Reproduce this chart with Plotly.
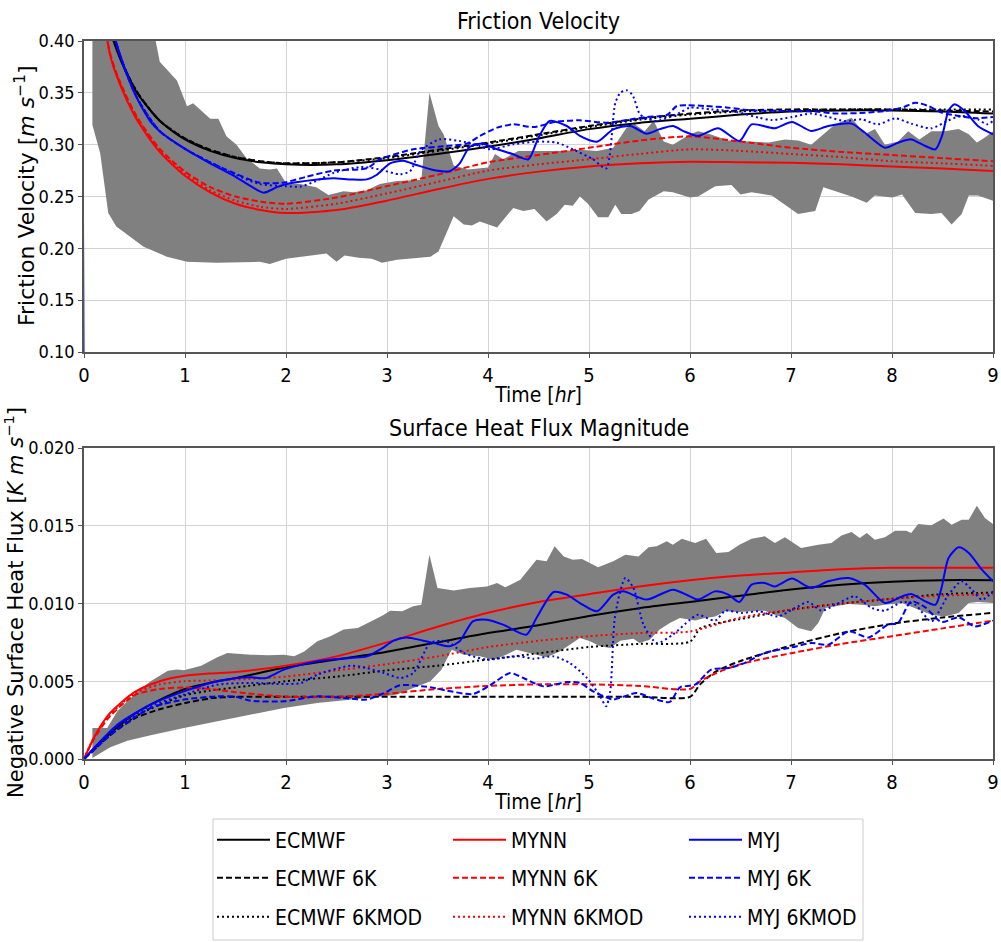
import plotly.graph_objects as go

# ---------------- DATA ----------------
# Friction velocity spread band (upper / lower envelope)
fv_band_up_t = [0.083, 0.3, 0.5, 0.7, 0.75, 0.92, 1.02, 1.08, 1.25, 1.33, 1.41, 1.51, 1.61, 1.74, 1.84, 1.91, 2.0, 2.14, 2.30, 2.42, 2.57, 2.67, 2.80, 2.93, 3.1, 3.34, 3.42, 3.51, 3.56, 3.66, 3.8, 4.0, 4.07, 4.15, 4.3, 4.5, 4.75, 4.91, 5.08, 5.24, 5.37, 5.45, 5.55, 5.64, 5.74, 5.83, 6.0, 6.08, 6.2, 6.38, 6.6, 6.78, 6.94, 7.07, 7.2, 7.32, 7.44, 7.6, 7.73, 7.83, 7.93, 8.06, 8.16, 8.27, 8.39, 8.52, 8.66, 8.76, 8.84, 8.92, 9.0]
fv_band_up_v = [0.60, 0.56, 0.48, 0.405, 0.38, 0.362, 0.337, 0.340, 0.325, 0.325, 0.308, 0.300, 0.287, 0.277, 0.276, 0.277, 0.263, 0.262, 0.259, 0.2515, 0.255, 0.254, 0.256, 0.262, 0.265, 0.266, 0.350, 0.318, 0.310, 0.280, 0.276, 0.278, 0.291, 0.286, 0.294, 0.294, 0.294, 0.295, 0.294, 0.297, 0.316, 0.320, 0.313, 0.323, 0.303, 0.300, 0.310, 0.313, 0.310, 0.304, 0.303, 0.302, 0.305, 0.304, 0.300, 0.310, 0.320, 0.326, 0.310, 0.315, 0.300, 0.303, 0.313, 0.305, 0.313, 0.313, 0.315, 0.310, 0.302, 0.307, 0.313]
fv_band_lo_t = [0.083, 0.16, 0.24, 0.32, 0.42, 0.59, 0.82, 1.02, 1.31, 1.74, 1.84, 2.0, 2.4, 2.5, 2.58, 2.72, 2.85, 2.95, 3.1, 3.3, 3.43, 3.51, 3.66, 3.76, 3.84, 3.92, 4.09, 4.25, 4.35, 4.46, 4.58, 4.68, 4.76, 4.84, 4.91, 4.99, 5.09, 5.19, 5.26, 5.32, 5.42, 5.5, 5.59, 5.74, 5.83, 6.0, 6.08, 6.25, 6.41, 6.5, 6.61, 6.81, 6.94, 7.07, 7.24, 7.32, 7.47, 7.6, 7.75, 7.83, 8.0, 8.1, 8.23, 8.39, 8.49, 8.59, 8.69, 8.76, 8.85, 9.0]
fv_band_lo_v = [0.319, 0.292, 0.234, 0.221, 0.214, 0.2016, 0.192, 0.187, 0.186, 0.187, 0.185, 0.190, 0.195, 0.187, 0.193, 0.191, 0.190, 0.186, 0.189, 0.191, 0.192, 0.197, 0.231, 0.223, 0.222, 0.226, 0.220, 0.239, 0.236, 0.238, 0.226, 0.233, 0.242, 0.241, 0.250, 0.243, 0.230, 0.230, 0.242, 0.233, 0.233, 0.236, 0.247, 0.255, 0.254, 0.249, 0.250, 0.260, 0.261, 0.252, 0.254, 0.251, 0.242, 0.233, 0.236, 0.259, 0.254, 0.250, 0.244, 0.251, 0.249, 0.252, 0.234, 0.233, 0.234, 0.223, 0.233, 0.251, 0.251, 0.246]

# Friction velocity, smooth schemes
fv_t = [0.005, 0.25, 0.5, 0.75, 1.0, 1.25, 1.5, 1.75, 2.0, 2.5, 3.0, 3.5, 4.0, 4.5, 5.0, 5.5, 6.0, 6.5, 7.0, 7.5, 8.0, 8.5, 9.0]
fv_ecmwf = [0.9, 0.415, 0.354, 0.323, 0.305, 0.294, 0.287, 0.283, 0.281, 0.281, 0.285, 0.291, 0.298, 0.306, 0.315, 0.321, 0.325, 0.329, 0.332, 0.333, 0.333, 0.332, 0.330]
fv_ecmwf_6k = [0.9, 0.416, 0.355, 0.323, 0.306, 0.295, 0.288, 0.284, 0.282, 0.283, 0.288, 0.295, 0.302, 0.310, 0.318, 0.325, 0.330, 0.333, 0.334, 0.334, 0.334, 0.333, 0.332]
fv_ecmwf_6kmod = [0.9, 0.416, 0.355, 0.323, 0.306, 0.295, 0.288, 0.284, 0.282, 0.283, 0.287, 0.294, 0.301, 0.309, 0.317, 0.324, 0.329, 0.332, 0.333, 0.334, 0.334, 0.334, 0.334]
fv_mynn = [0.9, 0.390, 0.328, 0.293, 0.270, 0.254, 0.243, 0.237, 0.234, 0.237, 0.246, 0.257, 0.267, 0.274, 0.279, 0.282, 0.2835, 0.283, 0.2825, 0.281, 0.279, 0.277, 0.2745]
fv_mynn_6k = [0.9, 0.392, 0.331, 0.296, 0.274, 0.259, 0.250, 0.245, 0.243, 0.249, 0.260, 0.271, 0.283, 0.290, 0.297, 0.304, 0.308, 0.303, 0.297, 0.293, 0.290, 0.287, 0.284]
fv_mynn_6kmod = [0.9, 0.391, 0.330, 0.294, 0.272, 0.256, 0.246, 0.240, 0.238, 0.243, 0.253, 0.264, 0.275, 0.281, 0.286, 0.291, 0.2955, 0.294, 0.291, 0.288, 0.284, 0.282, 0.2795]

fv_myj_t = [0, 0.005, 0.25, 0.5, 0.66, 0.75, 1.0, 1.25, 1.5, 1.65, 1.78, 1.91, 2.04, 2.27, 2.47, 2.64, 2.8, 2.9, 3.03, 3.16, 3.29, 3.46, 3.62, 3.72, 3.82, 3.95, 4.05, 4.25, 4.4, 4.5, 4.61, 4.78, 4.91, 5.08, 5.24, 5.41, 5.57, 5.70, 5.83, 5.95, 6.08, 6.28, 6.49, 6.61, 6.84, 7.01, 7.2, 7.37, 7.6, 7.73, 7.93, 8.06, 8.19, 8.33, 8.43, 8.5, 8.56, 8.62, 8.72, 8.85, 9.0]
fv_myj = [0, 0.9, 0.425, 0.35, 0.322, 0.313, 0.296, 0.282, 0.269, 0.260, 0.2537, 0.259, 0.2627, 0.266, 0.2675, 0.2665, 0.2665, 0.271, 0.282, 0.2845, 0.2804, 0.2756, 0.2745, 0.282, 0.298, 0.301, 0.297, 0.2907, 0.2859, 0.3068, 0.3228, 0.318, 0.3084, 0.3029, 0.3148, 0.318, 0.3106, 0.315, 0.318, 0.3125, 0.3084, 0.3158, 0.3035, 0.3196, 0.3158, 0.3219, 0.3132, 0.318, 0.3203, 0.3116, 0.2971, 0.3019, 0.3051, 0.2987, 0.2955, 0.310, 0.333, 0.339, 0.3325, 0.318, 0.310]

fv_myj6k_t = [0.005, 0.25, 0.5, 0.75, 1.0, 1.25, 1.5, 1.74, 1.97, 2.2, 2.47, 2.8, 2.93, 3.0, 3.26, 3.59, 3.79, 3.92, 4.09, 4.25, 4.45, 4.68, 4.91, 5.17, 5.41, 5.57, 5.77, 5.87, 5.97, 6.15, 6.38, 6.61, 6.94, 7.27, 7.44, 7.77, 7.93, 8.1, 8.23, 8.36, 8.49, 8.66, 8.82, 9.0]
fv_myj_6k = [0.9, 0.425, 0.35, 0.313, 0.296, 0.283, 0.272, 0.2633, 0.2633, 0.269, 0.275, 0.2772, 0.2859, 0.2884, 0.2955, 0.2987, 0.301, 0.3084, 0.3164, 0.3196, 0.317, 0.3222, 0.3235, 0.3212, 0.3244, 0.3267, 0.3286, 0.3373, 0.338, 0.3373, 0.3357, 0.3331, 0.3325, 0.3318, 0.330, 0.331, 0.3325, 0.3357, 0.3405, 0.3373, 0.331, 0.3277, 0.3254, 0.3267]

fv_myj6kmod_t = [0.005, 0.25, 0.5, 0.75, 1.0, 1.25, 1.5, 1.74, 2.0, 2.14, 2.3, 2.47, 2.74, 2.93, 3.13, 3.23, 3.33, 3.52, 3.72, 3.92, 4.02, 4.25, 4.48, 4.68, 4.84, 5.04, 5.17, 5.26, 5.31, 5.37, 5.43, 5.5, 5.55, 5.67, 5.8, 5.9, 6.0, 6.21, 6.45, 6.68, 6.81, 7.01, 7.2, 7.37, 7.53, 7.7, 7.86, 8.03, 8.19, 8.39, 8.56, 8.69, 8.85, 8.94, 9.0]
fv_myj_6kmod = [0.9, 0.425, 0.35, 0.313, 0.296, 0.283, 0.271, 0.262, 0.260, 0.2595, 0.265, 0.2727, 0.2785, 0.276, 0.2714, 0.2746, 0.2939, 0.3051, 0.3035, 0.2987, 0.2955, 0.3003, 0.3029, 0.302, 0.2955, 0.2859, 0.277, 0.34, 0.35, 0.3525, 0.348, 0.33, 0.326, 0.3228, 0.3267, 0.3309, 0.3357, 0.334, 0.3318, 0.326, 0.3238, 0.3267, 0.330, 0.3267, 0.3228, 0.3244, 0.3196, 0.3254, 0.3203, 0.3158, 0.3235, 0.3277, 0.3244, 0.3196, 0.3228]

# Heat flux spread band
hf_band_up_t = [0.083, 0.23, 0.33, 0.43, 0.53, 0.66, 0.83, 0.92, 0.99, 1.16, 1.32, 1.42, 1.52, 1.65, 1.82, 1.98, 2.08, 2.18, 2.31, 2.44, 2.57, 2.71, 2.84, 2.97, 3.03, 3.15, 3.26, 3.34, 3.42, 3.50, 3.66, 3.82, 3.99, 4.09, 4.17, 4.32, 4.48, 4.58, 4.66, 4.75, 4.84, 4.93, 5.09, 5.24, 5.36, 5.49, 5.59, 5.67, 5.77, 5.83, 5.92, 6.0, 6.05, 6.16, 6.26, 6.38, 6.49, 6.61, 6.74, 6.84, 6.94, 7.1, 7.27, 7.4, 7.5, 7.6, 7.68, 7.75, 7.83, 7.93, 8.03, 8.14, 8.19, 8.26, 8.39, 8.51, 8.59, 8.69, 8.76, 8.84, 8.92, 9.0]
hf_band_up_v = [0.0020, 0.0020, 0.00307, 0.0037, 0.00435, 0.0050, 0.00568, 0.00575, 0.0057, 0.0060, 0.00654, 0.00682, 0.00676, 0.00671, 0.00668, 0.00671, 0.0066, 0.00692, 0.00757, 0.00789, 0.00832, 0.00842, 0.00885, 0.00928, 0.00954, 0.00950, 0.00982, 0.00992, 0.01314, 0.0110, 0.01083, 0.0110, 0.0111, 0.01132, 0.01104, 0.01153, 0.01282, 0.01271, 0.01368, 0.01303, 0.01282, 0.01286, 0.01233, 0.01271, 0.01314, 0.01303, 0.01361, 0.01368, 0.0140, 0.01378, 0.01417, 0.0140, 0.01389, 0.01417, 0.01325, 0.01331, 0.01378, 0.01417, 0.01432, 0.01389, 0.01426, 0.01357, 0.01378, 0.01389, 0.01438, 0.0146, 0.01421, 0.01453, 0.0141, 0.01426, 0.01468, 0.01468, 0.01453, 0.01511, 0.01503, 0.01546, 0.01507, 0.01539, 0.01539, 0.01629, 0.0155, 0.01511]
hf_band_lo_t = [0.083, 0.165, 0.26, 0.43, 0.66, 0.99, 1.32, 1.65, 1.98, 2.31, 2.64, 2.97, 3.1, 3.26, 3.43, 3.54, 3.64, 3.76, 3.92, 4.05, 4.18, 4.28, 4.42, 4.58, 4.71, 4.81, 4.91, 5.01, 5.11, 5.21, 5.31, 5.44, 5.5, 5.6, 5.7, 5.8, 5.9, 6.05, 6.15, 6.25, 6.35, 6.48, 6.61, 6.74, 6.84, 6.94, 7.07, 7.2, 7.27, 7.34, 7.44, 7.57, 7.7, 7.83, 7.93, 8.1, 8.26, 8.39, 8.52, 8.66, 8.76, 8.85, 9.0]
hf_band_lo_v = [0.00006, 0.0004, 0.00075, 0.00118, 0.00152, 0.0020, 0.00242, 0.00285, 0.00328, 0.0036, 0.00382, 0.00403, 0.00414, 0.00457, 0.0050, 0.00575, 0.00703, 0.00671, 0.0066, 0.00639, 0.00671, 0.00703, 0.00682, 0.00654, 0.00692, 0.00735, 0.00778, 0.00757, 0.00725, 0.00714, 0.00761, 0.00774, 0.00746, 0.00767, 0.00832, 0.00875, 0.00907, 0.0089, 0.00907, 0.00917, 0.0095, 0.00945, 0.0095, 0.00954, 0.00928, 0.00907, 0.00842, 0.00821, 0.00875, 0.00971, 0.00982, 0.00997, 0.00992, 0.00982, 0.00992, 0.01003, 0.0096, 0.00928, 0.00917, 0.00939, 0.01003, 0.0101, 0.01003]

# Heat flux, smooth schemes
hf_t = [0, 0.1, 0.25, 0.5, 0.75, 1.0, 1.25, 1.5, 2.0, 2.5, 3.0, 3.5, 4.0, 4.5, 5.0, 5.5, 6.0, 6.5, 7.0, 7.5, 8.0, 8.5, 9.0]
hf_ecmwf = [0, 0.0007, 0.0016, 0.0029, 0.0038, 0.0045, 0.0049, 0.0052, 0.0059, 0.0064, 0.0069, 0.0075, 0.0081, 0.0086, 0.0092, 0.0097, 0.0101, 0.0105, 0.0109, 0.0112, 0.0114, 0.0115, 0.0115]
hf_mynn = [0, 0.0014, 0.0029, 0.0043, 0.0050, 0.00535, 0.0055, 0.0056, 0.0060, 0.0066, 0.0075, 0.0085, 0.0094, 0.0101, 0.0106, 0.0111, 0.0115, 0.0118, 0.0120, 0.0122, 0.0123, 0.0123, 0.0123]
hf_mynn_6kmod = [0, 0.0014, 0.0028, 0.0042, 0.0048, 0.0050, 0.00505, 0.0051, 0.0053, 0.0057, 0.0061, 0.0066, 0.0072, 0.0076, 0.0079, 0.0081, 0.0082, 0.0091, 0.0096, 0.0100, 0.0103, 0.0105, 0.0106]

hf6_t = [0, 0.1, 0.25, 0.5, 0.75, 1.0, 1.25, 1.5, 2.0, 2.5, 3.0, 3.5, 4.0, 4.5, 5.0, 5.5, 6.0, 6.1, 6.25, 6.5, 7.0, 7.5, 8.0, 8.5, 9.0]
hf_ecmwf_6k = [0, 0.0006, 0.0015, 0.0026, 0.0032, 0.0036, 0.0039, 0.0040, 0.0040, 0.0040, 0.0040, 0.0040, 0.0040, 0.0040, 0.0040, 0.0040, 0.0040, 0.0048, 0.0056, 0.0063, 0.0073, 0.0081, 0.0087, 0.0091, 0.0094]
hf_ecmwf_6kmod = [0, 0.0006, 0.0015, 0.0027, 0.0035, 0.0041, 0.0044, 0.0046, 0.0050, 0.0053, 0.0057, 0.0060, 0.0064, 0.0068, 0.0072, 0.0074, 0.00755, 0.0084, 0.0087, 0.0090, 0.0096, 0.0100, 0.0103, 0.0106, 0.0107]
hf_mynn_6k = [0, 0.0013, 0.0027, 0.0041, 0.0045, 0.0046, 0.0045, 0.0043, 0.0040, 0.0040, 0.0042, 0.0045, 0.0047, 0.0048, 0.0048, 0.0047, 0.0045, 0.0050, 0.0055, 0.0061, 0.0068, 0.0074, 0.0079, 0.0084, 0.0089]

hf_myj_t = [0, 0.33, 0.66, 0.99, 1.32, 1.5, 1.65, 1.8, 1.98, 2.31, 2.64, 2.8, 2.97, 3.06, 3.19, 3.36, 3.5, 3.62, 3.72, 3.85, 3.99, 4.15, 4.38, 4.48, 4.65, 4.78, 4.91, 5.08, 5.24, 5.34, 5.57, 5.83, 6.0, 6.08, 6.25, 6.38, 6.49, 6.61, 6.74, 6.84, 7.01, 7.2, 7.37, 7.57, 7.73, 7.93, 8.1, 8.19, 8.33, 8.43, 8.49, 8.56, 8.66, 8.76, 8.89, 9.0]
hf_myj = [0, 0.0022, 0.0035, 0.00435, 0.0050, 0.0052, 0.00525, 0.0052, 0.00575, 0.00628, 0.0065, 0.0066, 0.0072, 0.0076, 0.00782, 0.00761, 0.0074, 0.00725, 0.00757, 0.00885, 0.00896, 0.00864, 0.0080, 0.00907, 0.01074, 0.01057, 0.01003, 0.0095, 0.01057, 0.01078, 0.01025, 0.01089, 0.01046, 0.01025, 0.01078, 0.01057, 0.0101, 0.01121, 0.01132, 0.0111, 0.0116, 0.0110, 0.01143, 0.01164, 0.01121, 0.01003, 0.01046, 0.01061, 0.01014, 0.00992, 0.0110, 0.01293, 0.01361, 0.01325, 0.01218, 0.01143]

hf_myj6k_t = [0, 0.33, 0.66, 0.99, 1.32, 1.5, 1.65, 1.98, 2.31, 2.64, 2.8, 2.97, 3.13, 3.43, 3.59, 3.85, 4.02, 4.22, 4.35, 4.55, 4.78, 4.91, 5.04, 5.17, 5.24, 5.47, 5.64, 5.8, 5.9, 6.05, 6.21, 6.38, 6.54, 6.74, 7.01, 7.2, 7.37, 7.57, 7.77, 7.96, 8.06, 8.19, 8.33, 8.49, 8.66, 8.82, 9.0]
hf_myj_6k = [0, 0.0019, 0.00328, 0.00382, 0.00403, 0.0040, 0.00375, 0.00371, 0.00403, 0.00388, 0.00382, 0.00424, 0.00474, 0.00461, 0.0044, 0.00418, 0.00474, 0.00553, 0.00521, 0.00467, 0.00495, 0.00489, 0.00435, 0.00397, 0.00382, 0.00424, 0.00388, 0.00367, 0.00461, 0.00478, 0.00575, 0.00585, 0.00617, 0.00682, 0.00718, 0.00746, 0.00735, 0.00821, 0.00782, 0.00864, 0.00875, 0.01014, 0.00975, 0.00881, 0.00911, 0.00853, 0.0089]

hf_myj6kmod_t = [0, 0.33, 0.66, 0.99, 1.32, 1.65, 1.98, 2.15, 2.31, 2.64, 2.8, 2.97, 3.13, 3.26, 3.43, 3.59, 3.76, 3.99, 4.18, 4.32, 4.45, 4.65, 4.81, 4.98, 5.11, 5.17, 5.21, 5.26, 5.36, 5.44, 5.54, 5.67, 5.83, 6.0, 6.08, 6.25, 6.35, 6.51, 6.68, 6.87, 7.04, 7.17, 7.3, 7.44, 7.63, 7.8, 7.93, 8.1, 8.23, 8.39, 8.56, 8.69, 8.79, 8.89, 9.0]
hf_myj_6kmod = [0, 0.0021, 0.0034, 0.00414, 0.00478, 0.00489, 0.00482, 0.00489, 0.00542, 0.0060, 0.00585, 0.00553, 0.00521, 0.00553, 0.00746, 0.00757, 0.00682, 0.00639, 0.00654, 0.0066, 0.00645, 0.0066, 0.00617, 0.00521, 0.00403, 0.00339, 0.00435, 0.00928, 0.01164, 0.0110, 0.00864, 0.00746, 0.0080, 0.00896, 0.00928, 0.0089, 0.00954, 0.00939, 0.0095, 0.00917, 0.00971, 0.0101, 0.00954, 0.00992, 0.01046, 0.00971, 0.00954, 0.0101, 0.00992, 0.00885, 0.01057, 0.01143, 0.01089, 0.01025, 0.01078]

legend_labels = ["ECMWF", "ECMWF 6K", "ECMWF 6KMOD", "MYNN", "MYNN 6K", "MYNN 6KMOD", "MYJ", "MYJ 6K", "MYJ 6KMOD"]
x_ticks = [0, 1, 2, 3, 4, 5, 6, 7, 8, 9]
fv_ticks = [0.10, 0.15, 0.20, 0.25, 0.30, 0.35, 0.40]
hf_ticks = [0.000, 0.005, 0.010, 0.015, 0.020]

# ---------------- FIGURE ----------------
FONT = "DejaVu Sans Condensed, Liberation Sans Narrow, Roboto Condensed, DejaVu Sans, sans-serif"
W, H = 1001, 942
colors = {"ECMWF": "black", "MYNN": "#ff0000", "MYJ": "#0000ff"}
dashes = {"": "solid", "6K": "6px,3px", "6KMOD": "2px,3px"}

fig = go.Figure()

# bands
fig.add_trace(go.Scatter(x=fv_band_up_t + fv_band_lo_t[::-1], y=fv_band_up_v + fv_band_lo_v[::-1],
                         fill="toself", fillcolor="#808080", line=dict(width=0), mode="lines",
                         showlegend=False, hoverinfo="skip", xaxis="x", yaxis="y"))
fig.add_trace(go.Scatter(x=hf_band_up_t + hf_band_lo_t[::-1], y=hf_band_up_v + hf_band_lo_v[::-1],
                         fill="toself", fillcolor="#808080", line=dict(width=0), mode="lines",
                         showlegend=False, hoverinfo="skip", xaxis="x2", yaxis="y2"))

fv_series = {
    "ECMWF": (fv_t, fv_ecmwf), "ECMWF 6K": (fv_t, fv_ecmwf_6k), "ECMWF 6KMOD": (fv_t, fv_ecmwf_6kmod),
    "MYNN": (fv_t, fv_mynn), "MYNN 6K": (fv_t, fv_mynn_6k), "MYNN 6KMOD": (fv_t, fv_mynn_6kmod),
    "MYJ 6K": (fv_myj6k_t, fv_myj_6k), "MYJ 6KMOD": (fv_myj6kmod_t, fv_myj_6kmod), "MYJ": (fv_myj_t, fv_myj),
}
hf_series = {
    "ECMWF": (hf_t, hf_ecmwf), "ECMWF 6K": (hf6_t, hf_ecmwf_6k), "ECMWF 6KMOD": (hf6_t, hf_ecmwf_6kmod),
    "MYNN": (hf_t, hf_mynn), "MYNN 6K": (hf6_t, hf_mynn_6k), "MYNN 6KMOD": (hf_t, hf_mynn_6kmod),
    "MYJ": (hf_myj_t, hf_myj), "MYJ 6K": (hf_myj6k_t, hf_myj_6k), "MYJ 6KMOD": (hf_myj6kmod_t, hf_myj_6kmod),
}


def style(name):
    parts = name.split(" ")
    model = parts[0]
    kind = parts[1] if len(parts) > 1 else ""
    return model, kind


for name in legend_labels:
    model, kind = style(name)
    t, v = hf_series[name]
    fig.add_trace(go.Scatter(x=t, y=v, mode="lines", name=name, showlegend=False,
                             line=dict(color=colors[model], width=2, dash=dashes[kind], shape="spline", smoothing=0.7),
                             xaxis="x2", yaxis="y2"))

for name in fv_series:
    model, kind = style(name)
    row = {"": "legend", "6K": "legend2", "6KMOD": "legend3"}[kind]
    col = ["ECMWF", "MYNN", "MYJ"].index(model)
    t, v = fv_series[name]
    fig.add_trace(go.Scatter(x=t, y=v, mode="lines", name=name,
                             line=dict(color=colors[model], width=2, dash=dashes[kind], shape="spline", smoothing=0.7),
                             legend=row, legendrank=col + 1, xaxis="x", yaxis="y"))

xdom = [84 / W, 993 / W]
ax_common = dict(showgrid=True, gridcolor="#d3d3d3", gridwidth=1, showline=True, mirror=True,
                 linecolor="#555555", linewidth=1.5, ticks="outside", ticklen=4, tickcolor="#555555",
                 zeroline=False, automargin=False)
xtick_font = dict(family=FONT, size=20, color="black")
ytick_font = dict(family=FONT, size=18, color="black")

title_font = dict(family=FONT, size=21, color="black")
fig.update_layout(
    width=W, height=H, margin=dict(l=0, r=0, t=0, b=0, autoexpand=False),
    plot_bgcolor="white", paper_bgcolor="white",
    xaxis=dict(domain=xdom, range=[0, 9], tickvals=x_ticks, anchor="y", tickfont=xtick_font,
               title=dict(text="Time [<i>hr</i>]", font=title_font, standoff=2), **ax_common),
    yaxis=dict(domain=[1 - 352 / H, 1 - 41 / H], range=[0.10, 0.40], tickvals=fv_ticks, tickformat=".2f",
               anchor="x", tickfont=ytick_font, **ax_common),
    xaxis2=dict(domain=xdom, range=[0, 9], tickvals=x_ticks, anchor="y2", tickfont=xtick_font,
                title=dict(text="Time [<i>hr</i>]", font=title_font, standoff=2), **ax_common),
    yaxis2=dict(domain=[1 - 759 / H, 1 - 448 / H], range=[0, 0.020], tickvals=hf_ticks, tickformat=".3f",
                anchor="x2", tickfont=ytick_font, **ax_common),
    showlegend=True,
)

leg_common = dict(orientation="h", x=212 / W, xanchor="left", yanchor="middle",
                  font=dict(family=FONT, size=21, color="black"), bgcolor="rgba(0,0,0,0)",
                  entrywidth=168, entrywidthmode="pixels", traceorder="normal", itemwidth=53)
fig.update_layout(
    legend=dict(y=1 - 840 / H, **leg_common),
    legend2=dict(y=1 - 878 / H, **leg_common),
    legend3=dict(y=1 - 917 / H, **leg_common),
)

fig.add_shape(type="rect", xref="paper", yref="paper", x0=213 / W, x1=863 / W, y0=1 - 940 / H, y1=1 - 819 / H,
              line=dict(color="#cccccc", width=1), fillcolor="rgba(0,0,0,0)", layer="above")

# titles
fig.add_annotation(text="Friction Velocity", x=538.5 / W, y=1 - 21 / H, xref="paper", yref="paper",
                   showarrow=False, font=dict(family=FONT, size=23, color="black"), xanchor="center", yanchor="middle")
fig.add_annotation(text="Surface Heat Flux Magnitude", x=538.5 / W, y=1 - 428 / H, xref="paper", yref="paper",
                   showarrow=False, font=dict(family=FONT, size=23, color="black"), xanchor="center", yanchor="middle")
fig.add_annotation(text="Friction Velocity [<i>m</i> <i>s</i><sup>−1</sup>]", x=25 / W, y=1 - 196 / H,
                   xref="paper", yref="paper", showarrow=False, textangle=-90,
                   font=dict(family="DejaVu Sans", size=22, color="black"), xanchor="center", yanchor="middle")
fig.add_annotation(text="Negative Surface Heat Flux [<i>K</i> <i>m</i> <i>s</i><sup>−1</sup>]", x=14 / W, y=1 - 603 / H,
                   xref="paper", yref="paper", showarrow=False, textangle=-90,
                   font=dict(family="DejaVu Sans", size=21, color="black"), xanchor="center", yanchor="middle")

fig.write_html("out.html")
